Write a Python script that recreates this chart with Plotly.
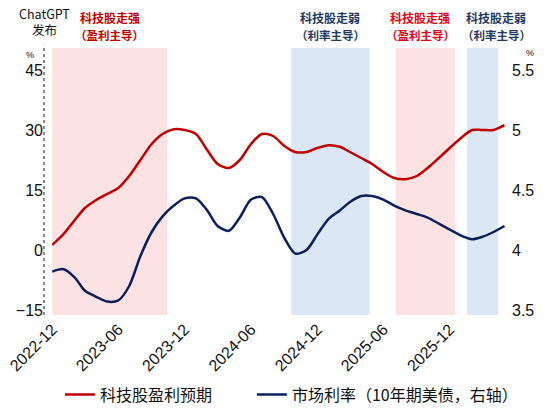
import pandas as pd
import plotly.graph_objects as go

# monthly points, 2022-12 .. 2026-05
months = [f"{2022 + (11 + i) // 12}-{(11 + i) % 12 + 1:02d}-01" for i in range(42)]

earnings = [1.3, 4.0, 7.5, 10.5, 12.5, 14.0, 15.5, 18.5, 22.5, 26.5, 29.0, 30.2,
            30.0, 29.0, 25.0, 21.5, 20.5, 22.5, 26.5, 29.0, 28.5, 26.0, 24.5, 24.5,
            25.5, 26.2, 25.8, 24.5, 23.0, 21.5, 19.5, 18.0, 17.7, 18.5, 20.5, 23.0,
            25.5, 28.0, 30.0, 30.0, 30.0, 31.2]

rate = [3.82, 3.84, 3.77, 3.66, 3.61, 3.57, 3.58, 3.70, 3.95, 4.15, 4.28, 4.37,
        4.43, 4.43, 4.33, 4.20, 4.16, 4.27, 4.42, 4.44, 4.30, 4.10, 3.97, 4.00,
        4.13, 4.26, 4.33, 4.40, 4.45, 4.45, 4.42, 4.37, 4.33, 4.30, 4.27, 4.22,
        4.17, 4.12, 4.09, 4.11, 4.15, 4.20]

# regimes: start, end, strong/weak
regimes = [("2022-12-01", "2023-10-14", "强"),
           ("2024-09-20", "2025-04-24", "弱"),
           ("2025-07-05", "2025-12-16", "强"),
           ("2026-01-18", "2026-04-14", "弱")]
label_shift_days = [0, 0, -14, 38]

tick_vals = ["2022-12-01", "2023-06-01", "2023-12-01", "2024-06-01",
             "2024-12-01", "2025-06-01", "2025-12-01"]
tick_text = ["2022-12", "2023-06", "2023-12", "2024-06", "2024-12", "2025-06", "2025-12"]

RED = "#c00000"
NAVY = "#0b1f5c"
FONT = "Liberation Sans, Arial, Noto Sans CJK SC"
CJK = "Noto Sans CJK SC"

fig = go.Figure()
fig.add_trace(go.Scatter(x=months, y=earnings, name="科技股盈利预期", mode="lines",
                         legend="legend",
                         line=dict(color=RED, width=2.5, shape="spline", smoothing=0.8)))
fig.add_trace(go.Scatter(x=months, y=rate, name="市场利率（10年期美债，右轴）",
                         mode="lines", yaxis="y2", legend="legend2",
                         line=dict(color=NAVY, width=2.5, shape="spline", smoothing=0.8)))

shapes = []
annotations = []
title_colors = [RED, "#1f3864", "#e60012", "#1f3864"]
for (x0, x1, kind), tc, sh in zip(regimes, title_colors, label_shift_days):
    fill = "#fde2e4" if kind == "强" else "#dbe7f4"
    shapes.append(dict(type="rect", xref="x", yref="paper", x0=x0, x1=x1, y0=0, y1=1,
                       fillcolor=fill, line_width=0, layer="below"))
    mid = pd.Timestamp(x0) + (pd.Timestamp(x1) - pd.Timestamp(x0)) / 2 + pd.Timedelta(days=sh)
    sub = "（盈利主导）" if kind == "强" else "（利率主导）"
    annotations.append(dict(xref="x", yref="paper", x=mid, y=1.0, yanchor="middle", yshift=31,
                            showarrow=False, text=f"<b>科技股走{kind}</b>",
                            font=dict(family=CJK, size=12, color=tc)))
    annotations.append(dict(xref="x", yref="paper", x=mid, y=1.0, yanchor="middle", yshift=13,
                            showarrow=False, text=f"<b>{sub}</b>",
                            font=dict(family=CJK, size=11.5, color=tc)))

# ChatGPT release marker
shapes.append(dict(type="line", xref="paper", yref="paper", x0=0, x1=0, y0=0, y1=1.012,
                   line=dict(color="#8a8a8a", width=2, dash="dot")))
annotations.append(dict(xref="paper", yref="paper", x=0, y=1.0, xanchor="center",
                        yanchor="middle", yshift=27, showarrow=False,
                        text="ChatGPT<br>发布", align="center",
                        font=dict(family=CJK, size=12.5, color="#111111")))
annotations.append(dict(xref="paper", yref="paper", x=0, y=1.0, xanchor="center", xshift=-14,
                        yanchor="middle", yshift=-7, showarrow=False, text="%",
                        font=dict(family=FONT, size=9, color="#111111")))
annotations.append(dict(xref="paper", yref="paper", x=1, y=1.0, xanchor="center", xshift=23,
                        yanchor="middle", yshift=-5, showarrow=False, text="%",
                        font=dict(family=FONT, size=9, color="#111111")))

legend_style = dict(orientation="h", xref="container", yref="container", xanchor="left",
                    y=0.035, yanchor="middle", itemwidth=30,
                    font=dict(family=CJK, size=16, color="#111111"))

fig.update_layout(
    width=550, height=409,
    margin=dict(l=44, r=43, t=48, b=94),
    paper_bgcolor="white", plot_bgcolor="white",
    font=dict(family=FONT, size=16, color="#111111"),
    showlegend=True,
    legend=dict(legend_style, x=0.109),
    legend2=dict(legend_style, x=0.458),
    xaxis=dict(type="date", range=["2022-11-08", "2026-05-08"], tickvals=tick_vals,
               ticktext=tick_text, tickangle=-45, showgrid=False, zeroline=False,
               showline=False, ticks="", tickfont=dict(size=16), ticklabelstandoff=1,
               automargin=False),
    yaxis=dict(range=[-16.25, 50.5], tickvals=[-15, 0, 15, 30, 45], showgrid=False,
               zeroline=False, showline=False, ticks="", tickfont=dict(size=16),
               automargin=False),
    yaxis2=dict(range=[3.4583, 5.6833], tickvals=[3.5, 4, 4.5, 5, 5.5], overlaying="y",
                side="right", showgrid=False, zeroline=False, showline=False, ticks="",
                tickfont=dict(size=16), ticklabelstandoff=4, automargin=False),
    shapes=shapes, annotations=annotations,
)

fig.write_html("out.html", config={"displayModeBar": False},
               post_script="document.body.style.margin='0px';")
